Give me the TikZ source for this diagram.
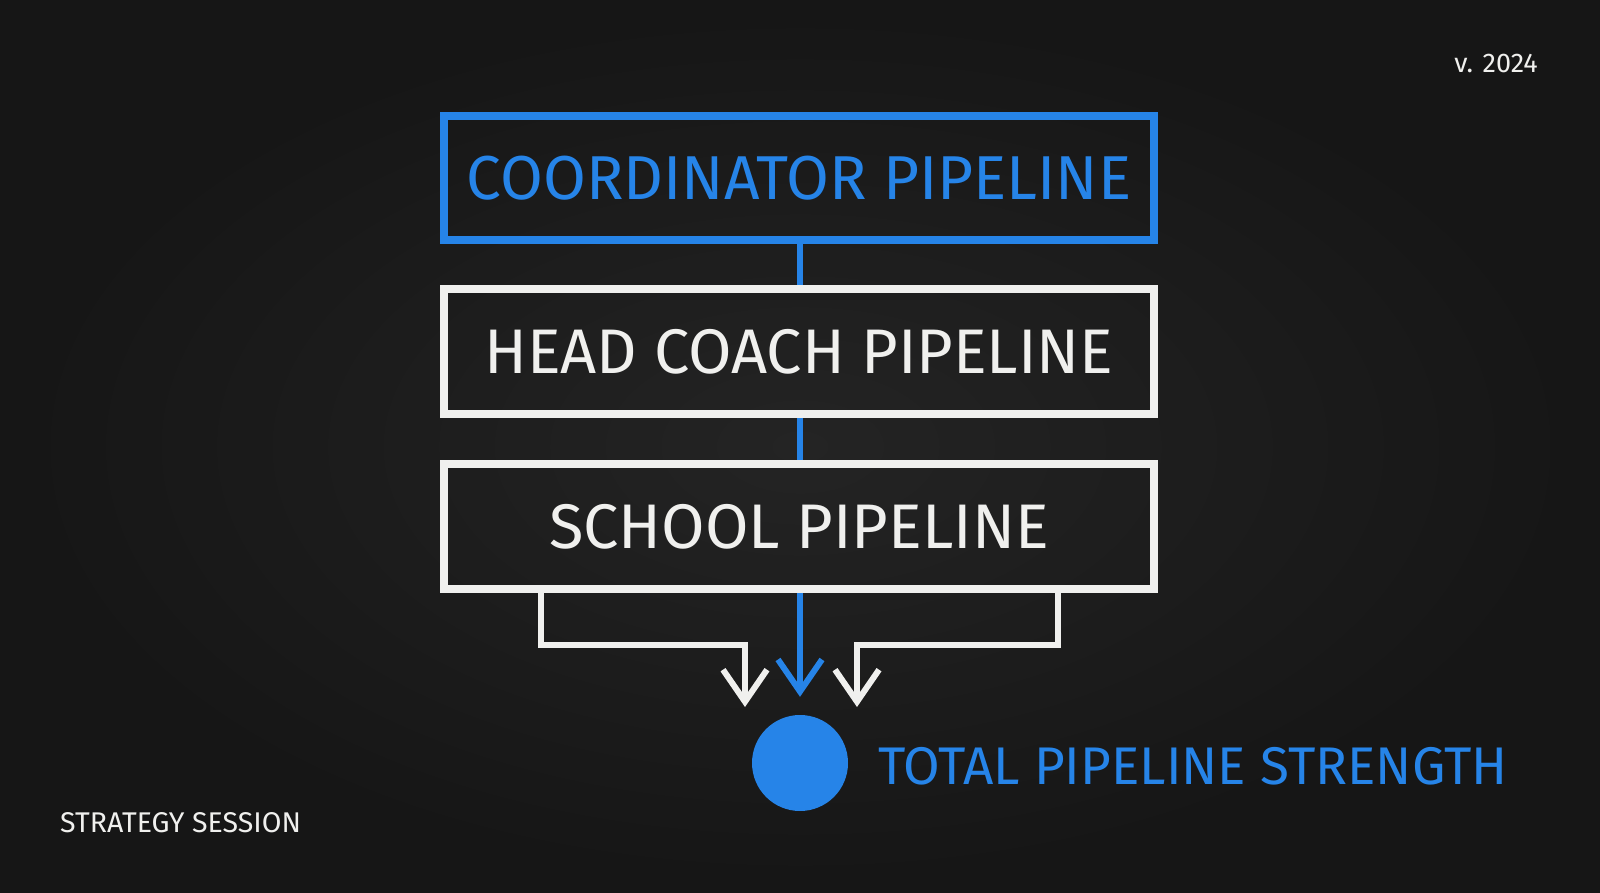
\documentclass[tikz,border=0pt]{standalone}
\usepackage{fontspec}
\setmainfont{Fira Sans}
\newfontfamily\chalk{Fira Sans}
\usetikzlibrary{arrows.meta,calc}
\definecolor{board}{RGB}{27,27,27}
\definecolor{boardlight}{RGB}{36,36,36}
\definecolor{chalkblue}{RGB}{38,132,232}
\definecolor{chalkwhite}{RGB}{240,240,238}
\tikzset{
  pipebox/.style={draw=chalkwhite, line width=8pt, minimum width=710pt, minimum height=125pt, inner sep=0pt, text=chalkwhite, font=\chalk\fontsize{63}{66}\selectfont},
  bluebox/.style={pipebox, draw=chalkblue, text=chalkblue, minimum height=124pt, font=\chalk\fontsize{62}{66}\selectfont},
  blueline/.style={draw=chalkblue, line width=6.5pt},
  whiteline/.style={draw=chalkwhite, line width=6pt, line join=miter},
  vtip/.style={-{Straight Barb[length=32pt,width=44pt,line width=6pt]}},
}
\begin{document}
\begin{tikzpicture}[x=1pt,y=-1pt]
\useasboundingbox (0,0) rectangle (1600,893);
\shade[inner color=boardlight, outer color=board!80!black] (0,0) rectangle (1600,893);

\node[bluebox] (coord) at (799,178) {COORDINATOR PIPELINE};
\node[pipebox] (head) at (799,351.5) {HEAD COACH PIPELINE};
\node[pipebox] (school) at (799,526.5) {SCHOOL PIPELINE};

\node[circle, fill=chalkblue, minimum size=96pt, inner sep=0pt] (total) at (800,763) {};
\node[anchor=west, text=chalkblue, font=\chalk\fontsize{53}{58}\selectfont, inner sep=0pt] (totallabel) at (878,766) {TOTAL PIPELINE STRENGTH};

\draw[blueline] (coord.south -| total.north) -- (head.north -| total.north);
\draw[blueline] (head.south -| total.north) -- (school.north -| total.north);

\coordinate (lcorner) at (541,645);
\coordinate (ltip) at (745,707);
\coordinate (rcorner) at (1058,645);
\coordinate (rtip) at (857,707);

\draw[whiteline, vtip] (lcorner |- school.south) -- (lcorner) -- (lcorner -| ltip) -- (ltip);
\draw[whiteline, vtip] (rcorner |- school.south) -- (rcorner) -- (rcorner -| rtip) -- (rtip);
\draw[blueline, vtip, shorten >=18pt] (school.south -| total.north) -- (total.north);

\node[anchor=west, text=chalkwhite, font=\chalk\fontsize{28.5}{30}\selectfont, inner sep=0pt] (session) at (60,823) {STRATEGY SESSION};
\node[anchor=east, text=chalkwhite, font=\chalk\fontsize{27}{28}\selectfont, inner sep=0pt] (version) at (1538,63) {v. 2024};
\end{tikzpicture}
\end{document}
